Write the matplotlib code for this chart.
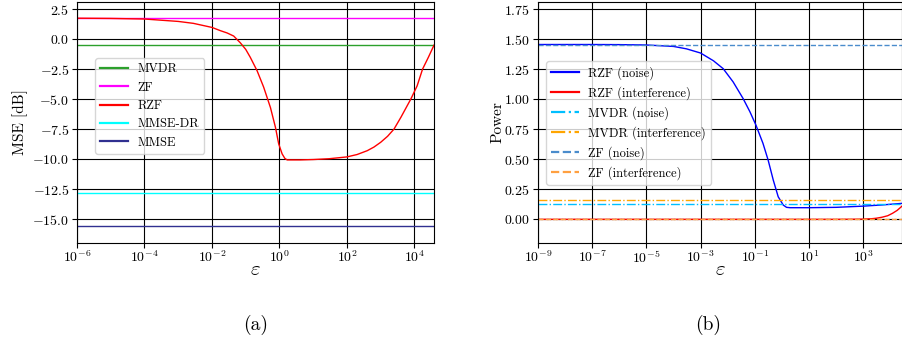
import numpy as np
import matplotlib
matplotlib.use("Agg")
import matplotlib.pyplot as plt
from matplotlib.ticker import NullLocator

plt.rcParams['font.family'] = ['cmr10', 'DejaVu Serif']
plt.rcParams['mathtext.fontset'] = 'cm'
plt.rcParams['axes.formatter.use_mathtext'] = True
plt.rcParams['axes.unicode_minus'] = True

# ---------- Panel (a) data ----------
mvdr_mse = -0.52
zf_mse = 1.76
mmse_dr_mse = -12.85
mmse_mse = -15.55
rzf_eps_a = [1e-6, 1e-5, 1e-4, 1e-3, 2.8e-3, 1e-2, 0.0177, 0.028, 0.044, 0.069, 0.1, 0.137, 0.217,
             0.34, 0.54, 0.76, 0.95, 1.2, 1.45, 1.69, 4.2, 10, 30, 100,
             200, 400, 630, 1000, 1600, 2480, 4000, 7800, 12000, 17400, 26000, 38000]
rzf_mse_a = [1.75, 1.73, 1.68, 1.48, 1.32, 0.98, 0.71, 0.52, 0.26, -0.3, -0.85, -1.52, -2.63,
             -4.0, -5.7, -7.35, -8.74, -9.57, -9.95, -10.07, -10.07, -10.04, -9.97, -9.82,
             -9.62, -9.3, -9.0, -8.6, -8.1, -7.5, -6.5, -5.0, -3.9, -2.5, -1.5, -0.5]

# ---------- Panel (b) data ----------
zf_noise = 1.455
zf_interf = 0.0
mvdr_noise = 0.125
mvdr_interf = 0.163
rzf_eps_b = [1e-9, 1e-7, 1e-6, 1e-5, 1e-4, 3e-4, 1e-3, 3e-3, 6.8e-3, 0.0158, 0.037, 0.066,
             0.11, 0.2, 0.31, 0.48, 0.73, 1.12, 1.48, 2, 10, 100, 1000, 5000, 27000]
rzf_noise = [1.456, 1.456, 1.455, 1.452, 1.44, 1.42, 1.385, 1.32, 1.255, 1.145, 1.006, 0.896,
             0.785, 0.633, 0.494, 0.327, 0.188, 0.119, 0.1, 0.097, 0.097, 0.1, 0.11, 0.12, 0.133]
rzf_interf_eps = [1e-9, 1e-3, 1e2, 500, 1000, 2000, 3000, 5000, 8000, 12000, 18000, 27000]
rzf_interf = [0.0, 0.0, 0.0, 0.001, 0.002, 0.005, 0.009, 0.018, 0.03, 0.05, 0.075, 0.11]

fig = plt.figure(figsize=(9.02, 3.43), dpi=100)
axA = fig.add_axes([77/902, 1 - 243/343, (434-77)/902, (243-2)/343])
axB = fig.add_axes([538/902, 1 - 243/343, (902-538)/902, (243-2)/343])

lw = 1.0
leg_kw = dict(fontsize=9, handlelength=2.2, framealpha=0.8, labelspacing=0.5,
              borderaxespad=0.0, loc='upper left')

# Panel (a)
axA.axhline(mvdr_mse, color='#2ca02c', lw=lw, label='MVDR')
axA.axhline(zf_mse, color='magenta', lw=lw, label='ZF')
axA.plot(rzf_eps_a, rzf_mse_a, color='red', lw=lw, label='RZF')
axA.axhline(mmse_dr_mse, color='cyan', lw=lw, label='MMSE-DR')
axA.axhline(mmse_mse, color='#303090', lw=lw, label='MMSE')
axA.set_xscale('log')
axA.set_xlim(1e-6, 3.8e4)
axA.set_ylim(-17.0, 3.1)
axA.set_yticks([2.5, 0.0, -2.5, -5.0, -7.5, -10.0, -12.5, -15.0])
axA.set_xticks([1e-6, 1e-4, 1e-2, 1e0, 1e2, 1e4])
axA.xaxis.set_minor_locator(NullLocator())
axA.set_ylabel('MSE [dB]', fontsize=11, labelpad=3)
axA.set_xlabel(r'$\varepsilon$', fontsize=15, labelpad=-3)
axA.grid(True, color='black', lw=0.8)
legA = axA.legend(bbox_to_anchor=((95-77)/357, (243-58)/241), **leg_kw)
axA.text(0.5, -0.34, '(a)', transform=axA.transAxes, ha='center', va='center', fontsize=14)

# Panel (b)
axB.plot(rzf_eps_b, rzf_noise, color='blue', lw=lw, label='RZF (noise)')
axB.plot(rzf_interf_eps, rzf_interf, color='red', lw=lw, label='RZF (interference)')
axB.axhline(mvdr_noise, color='deepskyblue', lw=lw, ls='-.', label='MVDR (noise)')
axB.axhline(mvdr_interf, color='orange', lw=lw, ls='-.', label='MVDR (interference)')
axB.axhline(zf_noise, color='#4a8ccc', lw=lw, ls='--', label='ZF (noise)')
axB.axhline(zf_interf, color='#ffa040', lw=lw, ls='--', label='ZF (interference)')
axB.axhline(0.0, color='black', lw=0.8, ls=':', zorder=1.5)
axB.set_xscale('log')
axB.set_xlim(1e-9, 2.7e4)
axB.set_ylim(-0.197, 1.81)
axB.set_yticks([0.0, 0.25, 0.5, 0.75, 1.0, 1.25, 1.5, 1.75])
axB.set_xticks([1e-9, 1e-7, 1e-5, 1e-3, 1e-1, 1e1, 1e3])
axB.xaxis.set_minor_locator(NullLocator())
axB.set_ylabel('Power', fontsize=11, labelpad=0)
axB.set_xlabel(r'$\varepsilon$', fontsize=15, labelpad=-3)
axB.grid(True, color='black', lw=0.8)
legB = axB.legend(bbox_to_anchor=((546-538)/364, (243-61)/241), **leg_kw)
axB.text((708-538)/364, -0.34, '(b)', transform=axB.transAxes, ha='center', va='center', fontsize=14)

for leg in (legA, legB):
    for ln in leg.get_lines():
        ln.set_linewidth(1.6)

for ax in (axA, axB):
    ax.tick_params(labelsize=10, direction='out', length=3.5)
    ax.tick_params(axis='x', pad=1.0)
    ax.tick_params(axis='y', pad=2.0)

fig.savefig('out.png', dpi=100)
